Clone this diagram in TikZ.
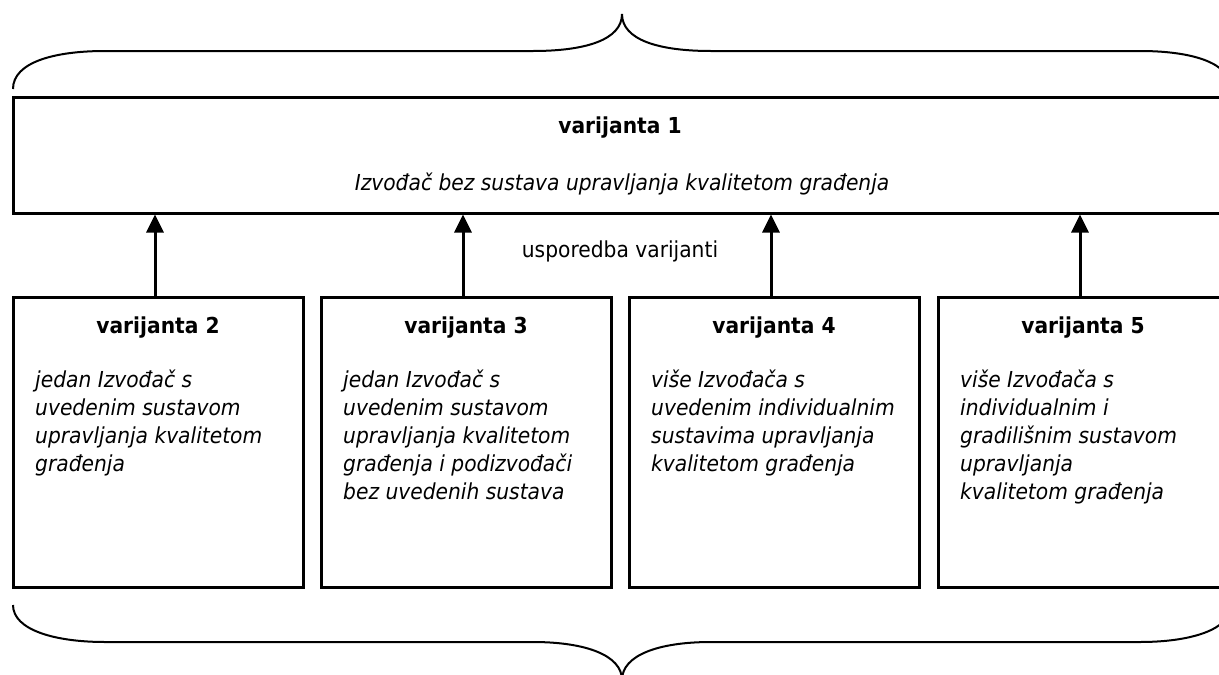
\documentclass[tikz,border=0pt]{standalone}
\usepackage{fontspec}
\setmainfont{DejaVu Sans}[FakeStretch=0.92]
\usetikzlibrary{arrows.meta}
\begin{document}
\begin{tikzpicture}[x=1pt,y=-1pt,
  box/.style={draw,line width=3pt,rectangle,inner sep=0pt,minimum width=290pt,minimum height=290pt},
  topbox/.style={draw,line width=3pt,rectangle,inner sep=0pt,minimum width=1219pt,minimum height=116pt},
  title/.style={font=\fontsize{22}{26}\selectfont\bfseries,anchor=base,inner sep=0pt},
  body/.style={font=\fontsize{22}{28}\selectfont\itshape,align=left,anchor=north west,inner sep=0pt},
  plain/.style={font=\fontsize{22}{26}\selectfont,anchor=base,inner sep=0pt},
  arr/.style={line width=3pt,-{Triangle[length=18pt,width=17pt]}},
  brace/.style={line width=2pt}]
\useasboundingbox (0,0) rectangle (1219,675);
\clip (0,0) rectangle (1219,675);

% top box
\node[topbox] (v1) at (622.5,155) {};
\node[title] (t1) at (620,133) {varijanta 1};
\node[plain,font=\fontsize{22}{26}\selectfont\itshape] (d1) at (622,190) {Izvođač bez sustava upravljanja kvalitetom građenja};

% bottom boxes
\node[box] (b2) at (158,442) {};
\node[box] (b3) at (466,442) {};
\node[box] (b4) at (774,442) {};
\node[box] (b5) at (1083,442) {};

\node[title] (t2) at (158,333) {varijanta 2};
\node[title] (t3) at (466,333) {varijanta 3};
\node[title] (t4) at (774,333) {varijanta 4};
\node[title] (t5) at (1083,333) {varijanta 5};

\node[body] (d2) at (35,370) {jedan Izvođač s\\uvedenim sustavom\\upravljanja kvalitetom\\građenja};
\node[body] (d3) at (343,370) {jedan Izvođač s\\uvedenim sustavom\\upravljanja kvalitetom\\građenja i podizvođači\\bez uvedenih sustava};
\node[body] (d4) at (651,370) {više Izvođača s\\uvedenim individualnim\\sustavima upravljanja\\kvalitetom građenja};
\node[body] (d5) at (960,370) {više Izvođača s\\individualnim i\\gradilišnim sustavom\\upravljanja\\kvalitetom građenja};

% comparison label
\node[plain] (cmp) at (620,257) {usporedba varijanti};

% arrows
\foreach \b in {b2,b3,b4,b5}
  \draw[arr] ([xshift=-3pt]\b.north) -- ([xshift=-3pt]\b.north |- v1.south);

% top brace
\draw[brace] (13,89) .. controls (13,62) and (55,51) .. (105,51) -- (533,51)
  .. controls (585,51) and (622,40) .. (622,14)
  .. controls (622,40) and (659,51) .. (711,51) -- (1140,51)
  .. controls (1190,51) and (1231,62) .. (1231,89);
% bottom brace
\draw[brace] (13,605) .. controls (13,630) and (55,642) .. (105,642) -- (533,642)
  .. controls (585,642) and (622,655) .. (622,680)
  .. controls (622,655) and (659,642) .. (711,642) -- (1140,642)
  .. controls (1190,642) and (1231,630) .. (1231,605);
\end{tikzpicture}
\end{document}
